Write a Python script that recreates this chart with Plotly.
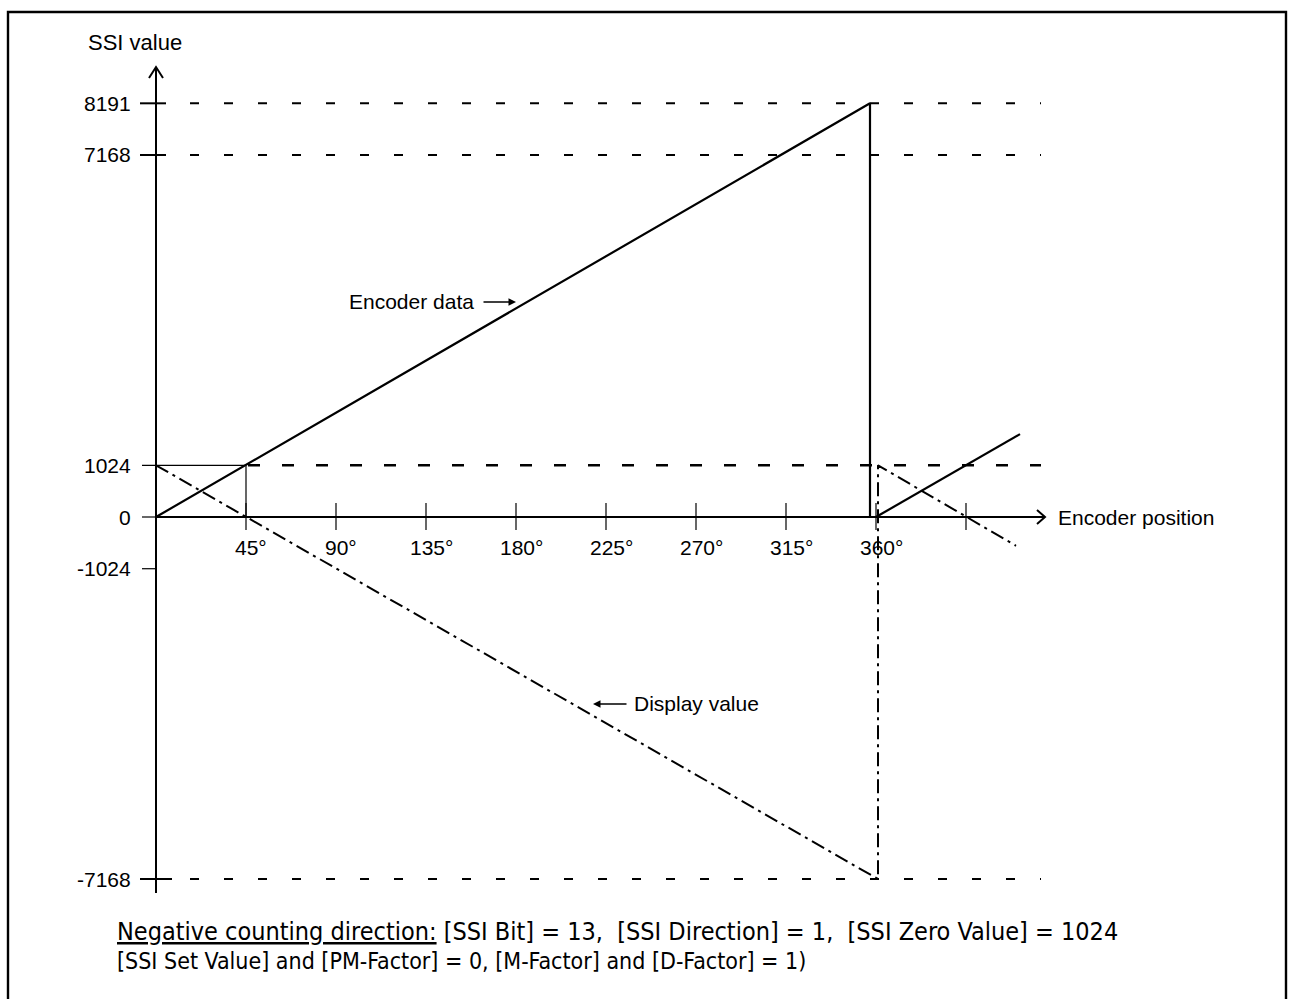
import plotly.graph_objects as go

W, H = 1293, 999

# values
angle_ticks = [45, 90, 135, 180, 225, 270, 315, 360]
angle_labels = ["45°", "90°", "135°", "180°", "225°", "270°", "315°", "360°"]
extra_angle_ticks = [405]
ssi_ticks = [8191, 7168, 1024, 0, -1024, -7168]
ssi_labels = ["8191", "7168", "1024", "0", "-1024", "-7168"]
ref_levels = [8191, 7168, -7168]
zero_value = 1024
zero_angle = 45

encoder_pos = [0, 357, 357]
encoder_val = [0, 8191, 0]
encoder_next_pos = [360, 432]
encoder_next_val = [0, 1640]

display_pos = [0, 361, 361, 430]
display_val = [1024, -7168, 1024, -570]

# pixel <-> data helpers (origin of the drawing at pixel 156, 517)
OX, OY = 156, 517
DEG_PER_PX = 0.5
VAL_PER_PX = 19.8


def dx(px):
    return (px - OX) * DEG_PER_PX


def dy(py):
    return (OY - py) * VAL_PER_PX


FONT = "Liberation Sans, Arial, sans-serif"
NARROW = "Liberation Sans Narrow, Arial Narrow, DejaVu Sans Condensed, Liberation Sans, sans-serif"
BLACK = "#000000"

fig = go.Figure()

fig.add_trace(go.Scatter(
    x=encoder_pos, y=encoder_val, mode="lines",
    line=dict(color=BLACK, width=2.2), hoverinfo="skip", showlegend=False,
))
fig.add_trace(go.Scatter(
    x=encoder_next_pos, y=encoder_next_val, mode="lines",
    line=dict(color=BLACK, width=2.2), hoverinfo="skip", showlegend=False,
))
fig.add_trace(go.Scatter(
    x=display_pos, y=display_val, mode="lines",
    line=dict(color=BLACK, width=2, dash="14px,5px,3px,5px"),
    hoverinfo="skip", showlegend=False,
))

shapes = []

# axes
shapes.append(dict(type="line", x0=0, x1=0, y0=dy(893), y1=dy(67),
                   line=dict(color=BLACK, width=2)))
shapes.append(dict(type="line", x0=0, x1=dx(1044), y0=0, y1=0,
                   line=dict(color=BLACK, width=2)))
# arrow heads
shapes.append(dict(type="path",
                   path=f"M {dx(149)} {dy(78)} L 0 {dy(67)} L {dx(163)} {dy(78)}",
                   line=dict(color=BLACK, width=2)))
shapes.append(dict(type="path",
                   path=f"M {dx(1037)} {dy(510)} L {dx(1045)} 0 L {dx(1037)} {dy(524)}",
                   line=dict(color=BLACK, width=2)))

# dashed reference levels
for lv in ref_levels:
    shapes.append(dict(type="line", x0=dx(190), x1=dx(1041), y0=lv, y1=lv,
                       line=dict(color=BLACK, width=2, dash="9px,25px")))
shapes.append(dict(type="line", x0=zero_angle + 1, x1=dx(1041), y0=zero_value, y1=zero_value,
                   line=dict(color=BLACK, width=2.6, dash="12px,22px")))

# y ticks
for v in ssi_ticks:
    if v in (8191, 7168):
        x0, x1, w = dx(140), dx(166), 2
    elif v == -7168:
        x0, x1, w = dx(140), dx(172), 2
    elif v == zero_value:
        x0, x1, w = dx(142), zero_angle, 1.2
    else:
        x0, x1, w = dx(142), 0, 1.2
    shapes.append(dict(type="line", x0=x0, x1=x1, y0=v, y1=v,
                       line=dict(color=BLACK, width=w)))

# thin vertical at the zero-value angle
shapes.append(dict(type="line", x0=zero_angle, x1=zero_angle, y0=zero_value, y1=0,
                   line=dict(color=BLACK, width=1.2)))

# x ticks
for a in angle_ticks + extra_angle_ticks:
    shapes.append(dict(type="line", x0=a, x1=a, y0=dy(503), y1=dy(530),
                       line=dict(color=BLACK, width=1.2)))

# frame
shapes.append(dict(type="rect", xref="paper", yref="paper",
                   x0=8 / W, x1=1286 / W, y0=-0.02, y1=1 - 12 / H,
                   line=dict(color=BLACK, width=2.4)))

annotations = []
for v, lab in zip(ssi_ticks, ssi_labels):
    annotations.append(dict(x=0, y=v, text=lab, showarrow=False, xanchor="right",
                            yanchor="middle", xshift=-23,
                            font=dict(family=FONT, size=21, color=BLACK)))
for a, lab in zip(angle_ticks, angle_labels):
    annotations.append(dict(x=a, y=0, text=lab, showarrow=False, xanchor="center",
                            yanchor="middle", xshift=5, yshift=-30,
                            font=dict(family=FONT, size=21, color=BLACK)))

annotations.append(dict(x=dx(86), y=dy(42), text="SSI value", showarrow=False,
                        xanchor="left", yanchor="middle",
                        font=dict(family=FONT, size=22, color=BLACK)))
annotations.append(dict(x=dx(1056), y=0, text="Encoder position", showarrow=False,
                        xanchor="left", yanchor="middle",
                        font=dict(family=FONT, size=21, color=BLACK)))

annotations.append(dict(x=dx(476), y=dy(301), text="Encoder data", showarrow=False,
                        xanchor="right", yanchor="middle",
                        font=dict(family=FONT, size=21, color=BLACK)))
annotations.append(dict(x=dx(516), y=dy(302), ax=-34, ay=0, text="", showarrow=True,
                        arrowhead=2, arrowsize=1, arrowwidth=1.5, arrowcolor=BLACK,
                        standoff=0))
annotations.append(dict(x=dx(632), y=dy(703), text="Display value", showarrow=False,
                        xanchor="left", yanchor="middle",
                        font=dict(family=FONT, size=21, color=BLACK)))
annotations.append(dict(x=dx(593), y=dy(704), ax=35, ay=0, text="", showarrow=True,
                        arrowhead=2, arrowsize=1, arrowwidth=1.5, arrowcolor=BLACK,
                        standoff=0))

annotations.append(dict(
    xref="paper", yref="paper", x=115 / W, y=1 - 931 / H,
    text="<u>Negative counting direction:</u> [SSI Bit] = 13,  [SSI Direction] = 1,  [SSI Zero Value] = 1024",
    showarrow=False, xanchor="left", yanchor="middle",
    font=dict(family=NARROW, size=25, color=BLACK),
))
annotations.append(dict(
    xref="paper", yref="paper", x=115 / W, y=1 - 961 / H,
    text="[SSI Set Value] and [PM-Factor] = 0, [M-Factor] and [D-Factor] = 1)",
    showarrow=False, xanchor="left", yanchor="middle",
    font=dict(family=NARROW, size=23, color=BLACK),
))

fig.update_layout(
    width=W, height=H,
    margin=dict(l=0, r=0, t=0, b=0),
    paper_bgcolor="white",
    plot_bgcolor="white",
    xaxis=dict(range=[dx(0), dx(W)], visible=False, fixedrange=True),
    yaxis=dict(range=[dy(H), dy(0)], visible=False, fixedrange=True),
    shapes=shapes,
    annotations=annotations,
    showlegend=False,
)

fig.write_html("out.html", config={"displayModeBar": False},
               post_script="document.body.style.margin='0';")
